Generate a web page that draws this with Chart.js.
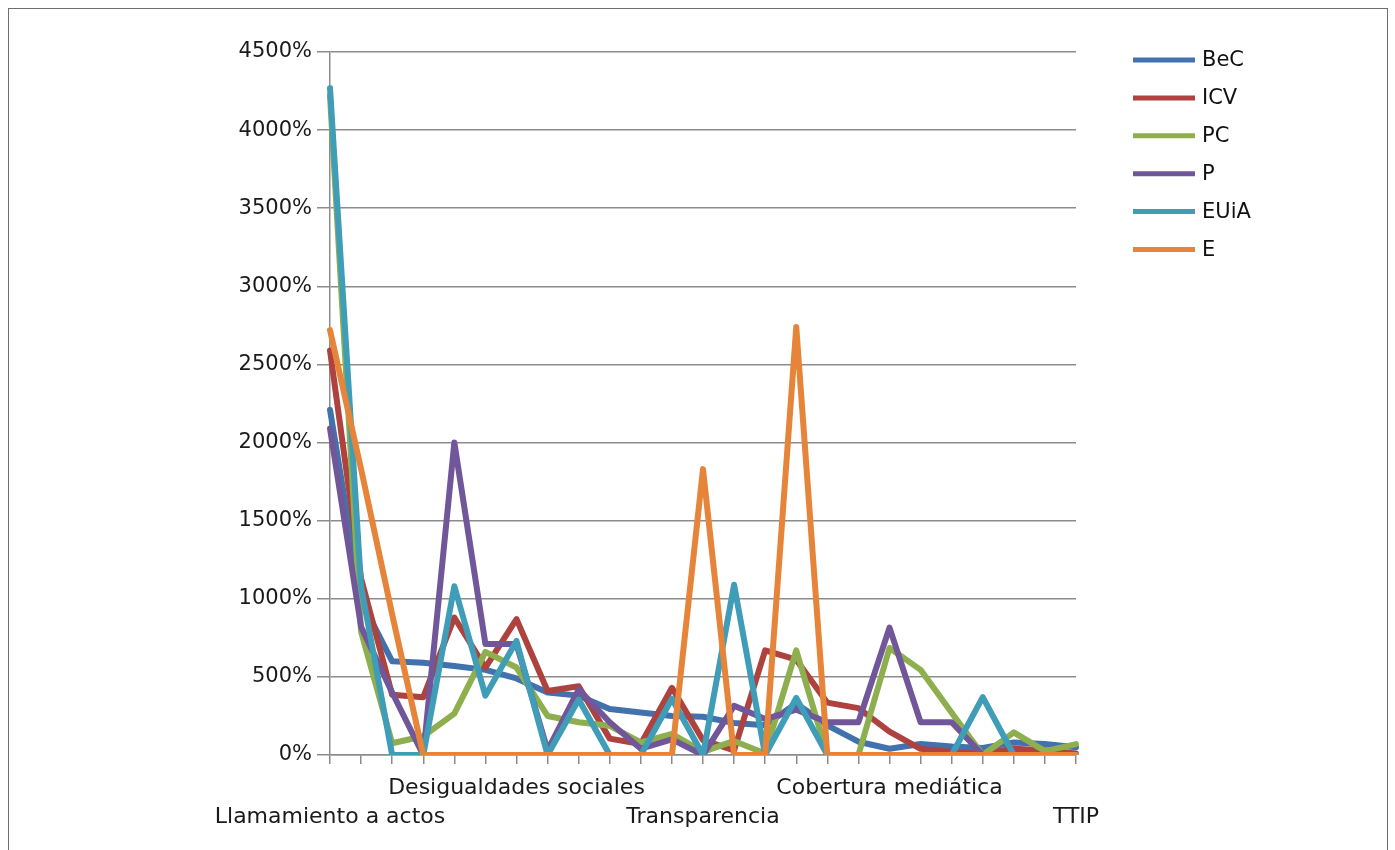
<!DOCTYPE html>
<html>
<head>
<meta charset="utf-8">
<script src="https://cdn.jsdelivr.net/npm/chart.js@4.4.1/dist/chart.umd.min.js"></script>
<style>
  html, body { margin: 0; padding: 0; background: #fff; }
  #wrap { position: relative; width: 1395px; height: 850px; overflow: hidden; }
  #frame { position: absolute; left: 8px; top: 8px; width: 1380px; height: 900px;
           border: 1px solid #6e6e6e; box-sizing: border-box; pointer-events: none; }
  canvas { position: absolute; left: 0; top: 0; }
</style>
</head>
<body>
<div id="wrap">
  <canvas id="c" width="1395" height="850"></canvas>
  <div id="frame"></div>
</div>
<script>
// Topic categories (only some carry a printed name on the axis)
const categories = [
  'Llamamiento a actos', '', '', '', '', '',
  'Desigualdades sociales', '', '', '', '', '',
  'Transparencia', '', '', '', '', '',
  'Cobertura mediática', '', '', '', '', '',
  'TTIP'
];

// Percentages per party
const BeC  = [2210, 990, 600, 590, 570, 545, 490, 400, 380, 295, 272, 250, 245, 205, 190, 330, 190, 85, 40, 70, 55, 45, 80, 70, 50];
const ICV  = [2590, 1130, 385, 370, 880, 560, 870, 410, 440, 105, 70, 430, 95, 30, 670, 610, 335, 300, 150, 40, 20, 10, 40, 30, 10];
const PC   = [4220, 790, 75, 120, 265, 660, 560, 250, 210, 187, 80, 135, 20, 90, 10, 670, 0, 0, 685, 545, 270, 0, 145, 25, 70];
const P    = [2090, 820, 400, 0, 2000, 710, 710, 30, 420, 210, 40, 100, 0, 315, 230, 290, 210, 210, 815, 210, 210, 0, 0, 0, 0];
const EUiA = [4270, 1080, 0, 0, 1080, 380, 730, 0, 355, 0, 0, 360, 0, 1090, 0, 365, 0, 0, 0, 0, 0, 370, 0, 0, 0];
const E    = [2720, 1830, 900, 0, 0, 0, 0, 0, 0, 0, 0, 0, 1830, 0, 0, 2740, 0, 0, 0, 0, 0, 0, 0, 0, 0];

const seriesNames  = ['BeC', 'ICV', 'PC', 'P', 'EUiA', 'E'];
const seriesValues = [BeC, ICV, PC, P, EUiA, E];
const seriesColors = ['#4272ad', '#ad423e', '#8eaf4d', '#71579a', '#3f9db8', '#e6853a'];

// Y axis tick range
const yMin = 0, yMax = 4500, yStep = 500;

const FONT = '"DejaVu Sans", Verdana, sans-serif';

// Legend drawn at the right of the plot
const sideLegend = {
  id: 'sideLegend',
  afterDraw(chart) {
    const ctx = chart.ctx;
    ctx.save();
    chart.data.datasets.forEach((ds, i) => {
      const y = 60 + i * 37.9;
      ctx.strokeStyle = ds.borderColor;
      ctx.lineWidth = 5;
      ctx.lineCap = 'butt';
      ctx.beginPath();
      ctx.moveTo(1133, y);
      ctx.lineTo(1195, y);
      ctx.stroke();
      ctx.fillStyle = '#111';
      ctx.font = '21px ' + FONT;
      ctx.textAlign = 'left';
      ctx.textBaseline = 'middle';
      ctx.fillText(ds.label, 1202, y + 1);
    });
    ctx.restore();
  }
};

const datasets = seriesNames.map((name, i) => ({
  label: name,
  data: seriesValues[i],
  borderColor: seriesColors[i],
  backgroundColor: seriesColors[i],
  borderWidth: 6,
  pointRadius: 0,
  pointHoverRadius: 0,
  tension: 0,
  borderJoinStyle: 'round',
  borderCapStyle: 'round',
  fill: false,
  order: seriesNames.length - i
}));

new Chart(document.getElementById('c'), {
  type: 'line',
  data: { labels: categories, datasets },
  plugins: [sideLegend],
  options: {
    responsive: false,
    animation: false,
    devicePixelRatio: 1,
    layout: { padding: { left: 0, top: 52, right: 319, bottom: 0 } },
    plugins: { legend: { display: false }, tooltip: { enabled: false } },
    scales: {
      x: {
        type: 'category',
        offset: false,
        afterFit(scale) { scale.height = 95; },
        grid: { display: true, drawOnChartArea: false, drawTicks: true, tickLength: 9, color: '#8c8c8c', lineWidth: 1.5 },
        border: { display: true, color: '#8c8c8c', width: 1.5 },
        ticks: {
          autoSkip: false,
          maxRotation: 0,
          minRotation: 0,
          padding: 10,
          color: '#1a1a1a',
          font: { family: FONT, size: 22, lineHeight: 1.32 },
          callback(value, index) {
            const name = this.getLabelForValue(value);
            if (!name) return '';
            return (index % 12 === 6) ? [name, ''] : ['', name];
          }
        }
      },
      y: {
        min: yMin,
        max: yMax,
        afterFit(scale) { scale.width = 330; },
        grid: { color: '#8c8c8c', lineWidth: 1.5, drawTicks: true, tickLength: 13 },
        border: { display: true, color: '#8c8c8c', width: 1.5 },
        ticks: {
          stepSize: yStep,
          padding: 5,
          color: '#1a1a1a',
          font: { family: FONT, size: 21 },
          callback: v => v + '%'
        }
      }
    }
  }
});
</script>
</body>
</html>
